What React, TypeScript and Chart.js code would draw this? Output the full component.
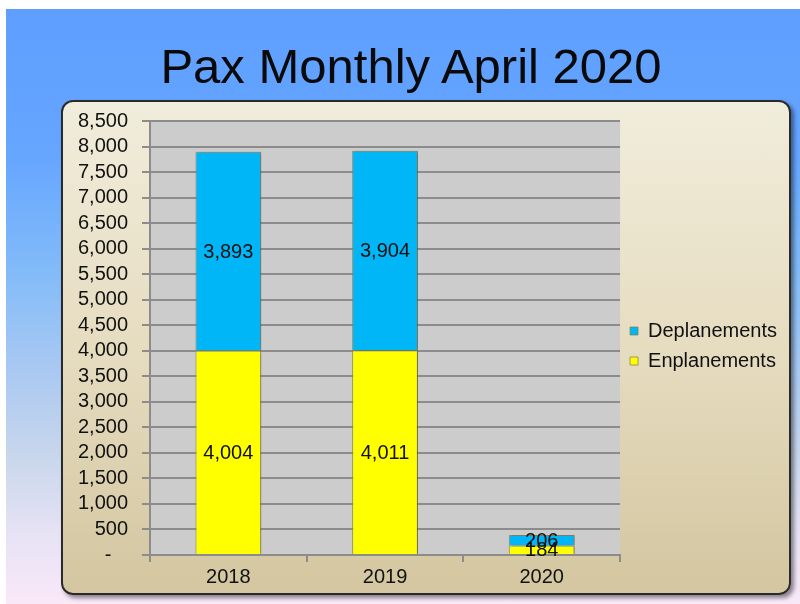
import React, { useEffect, useRef } from 'react';
import { Chart, registerables } from 'chart.js';

Chart.register(...registerables);

const chartTitle = 'Pax Monthly April 2020';
const categories = ['2018', '2019', '2020'];
const enplanements = [4004, 4011, 184];
const deplanements = [3893, 3904, 206];
const seriesNames = ['Enplanements', 'Deplanements'];
const yMax = 8500;
const yStep = 500;

const FONT = '"Liberation Sans", Arial, sans-serif';

const plotBg = {
  id: 'plotBg',
  beforeDraw(chart: any) {
    const { ctx, chartArea } = chart;
    ctx.save();
    ctx.fillStyle = '#CCCCCC';
    ctx.fillRect(chartArea.left, chartArea.top, chartArea.right - chartArea.left, chartArea.bottom - chartArea.top);
    ctx.restore();
  },
};

const barShadow = {
  id: 'barShadow',
  beforeDatasetsDraw(chart: any) {
    const ctx = chart.ctx;
    ctx.save();
    ctx.shadowColor = 'rgba(0,0,0,0.35)';
    ctx.shadowOffsetX = 2;
    ctx.shadowOffsetY = 0;
    ctx.shadowBlur = 3;
  },
  afterDatasetsDraw(chart: any) {
    const ctx = chart.ctx;
    ctx.restore();
    ctx.save();
    ctx.font = `20px ${FONT}`;
    ctx.fillStyle = '#111';
    ctx.textAlign = 'center';
    ctx.textBaseline = 'middle';
    chart.data.datasets.forEach((ds: any, i: number) => {
      const meta = chart.getDatasetMeta(i);
      meta.data.forEach((bar: any, j: number) => {
        const { x, y, base } = bar.getProps(['x', 'y', 'base'], true);
        ctx.fillText(Number(ds.data[j]).toLocaleString('en-US'), x, (y + base) / 2 + 1);
      });
    });
    ctx.restore();
  },
};

function PaxChart() {
  const ref = useRef<HTMLCanvasElement>(null);
  useEffect(() => {
    const chart = new Chart(ref.current!, {
      type: 'bar',
      data: {
        labels: categories,
        datasets: [
          {
            label: seriesNames[0],
            data: enplanements,
            backgroundColor: '#FFFF00',
            borderColor: 'rgba(130,130,80,0.75)',
            borderWidth: 1,
            barPercentage: 0.42,
            categoryPercentage: 1,
          },
          {
            label: seriesNames[1],
            data: deplanements,
            backgroundColor: '#00B6F6',
            borderColor: 'rgba(130,130,80,0.75)',
            borderWidth: 1,
            barPercentage: 0.42,
            categoryPercentage: 1,
          },
        ],
      },
      options: {
        responsive: false,
        animation: false,
        events: [],
        layout: { padding: { left: 0, top: 20, right: 1, bottom: 0 } },
        plugins: {
          tooltip: { enabled: false },
          title: { display: false },
          legend: {
            position: 'right',
            fullSize: false,
            reverse: true,
            title: { display: true, text: '', font: { size: 10, lineHeight: 1 }, padding: { top: 3, bottom: 3 } },
            labels: {
              boxWidth: 8,
              boxHeight: 8,
              padding: 10,
              color: '#111',
              font: { family: FONT, size: 20 },
            },
          },
        },
        scales: {
          x: {
            stacked: true,
            afterFit(scale: any) { scale.height = 37; },
            grid: { display: true, drawOnChartArea: false, color: '#8c8c8c', lineWidth: 2, tickLength: 7 },
            border: { display: true, color: '#8c8c8c', width: 2 },
            ticks: { color: '#111', font: { family: FONT, size: 20 }, padding: 3 },
          },
          y: {
            stacked: true,
            min: 0,
            max: yMax,
            afterFit(scale: any) {
              scale.width = 88;
              scale.paddingTop = 0;
              scale.paddingBottom = 0;
            },
            grid: { color: '#8c8c8c', lineWidth: 2, tickLength: 8 },
            border: { display: true, color: '#8c8c8c', width: 2 },
            ticks: {
              stepSize: yStep,
              autoSkip: false,
              color: '#111',
              padding: 14,
              font: { family: FONT, size: 20 },
              callback: (v: any) => (Number(v) === 0 ? '-   ' : Number(v).toLocaleString('en-US')),
            },
          },
        },
      },
      plugins: [plotBg, barShadow],
    });
    return () => chart.destroy();
  }, []);
  return <canvas ref={ref} width={726} height={491} style={{ display: 'block' }} />;
}

export default function App() {
  return (
    <div>
      <div
        style={{
          position: 'fixed',
          left: 6,
          top: 9,
          right: 0,
          bottom: 0,
          background: 'linear-gradient(180deg, #5e9eff 0%, #66a6ff 25%, #84bcf8 45%, #a8c8f2 60%, #c8d6ec 75%, #e6e2f4 88%, #f9e8f8 100%)',
        }}
      />
      <div
        style={{
          position: 'fixed',
          left: 0,
          width: 822,
          top: 42,
          textAlign: 'center',
          fontFamily: FONT,
          fontSize: 49,
          lineHeight: '49px',
          color: '#0a0a0a',
          whiteSpace: 'nowrap',
        }}
      >
        {chartTitle}
      </div>
      <div
        style={{
          position: 'fixed',
          left: 61,
          top: 100,
          width: 726,
          height: 491,
          border: '2px solid #2a2a2a',
          borderRadius: 12,
          background: 'linear-gradient(180deg, #f1eddc 0%, #e6dcc0 50%, #d3c6a0 100%)',
          boxShadow: '3px 3px 4px rgba(0,0,0,0.45)',
          overflow: 'hidden',
        }}
      >
        <div style={{ position: 'absolute', left: -1, top: -1 }}>
          <PaxChart />
        </div>
      </div>
    </div>
  );
}
